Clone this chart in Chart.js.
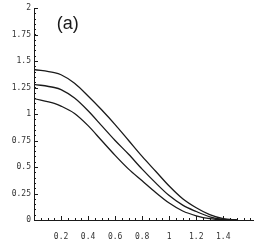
<!DOCTYPE html>
<html>
<head>
<meta charset="utf-8">
<script src="https://cdn.jsdelivr.net/npm/chart.js@4.4.1/dist/chart.umd.min.js"></script>
<style>
    html, body { margin: 0; padding: 0; background: #fff; }
    #wrap { width: 273px; height: 240px; }
</style>
</head>
<body>
<div id="wrap"><canvas id="plot"></canvas></div>
<script>
// Data
const xValues = [0, 0.15, 0.2, 0.3, 0.4, 0.5, 0.6, 0.7, 0.8, 0.9, 1.0, 1.1, 1.2, 1.3, 1.4, 1.5];
const topCurve = [1.42, 1.39, 1.37, 1.29, 1.17, 1.04, 0.90, 0.75, 0.60, 0.46, 0.32, 0.20, 0.115, 0.05, 0.012, 0];
const midCurve = [1.28, 1.25, 1.23, 1.15, 1.03, 0.89, 0.75, 0.62, 0.48, 0.35, 0.23, 0.14, 0.08, 0.03, 0.006, 0];
const lowCurve = [1.145, 1.10, 1.075, 1.005, 0.89, 0.75, 0.61, 0.48, 0.37, 0.26, 0.16, 0.085, 0.04, 0.012, 0.002, 0];

const xTicks = [0.2, 0.4, 0.6, 0.8, 1, 1.2, 1.4];
const yTicks = [0, 0.25, 0.5, 0.75, 1, 1.25, 1.5, 1.75, 2];
const panelLabel = '(a)';

const lineColor = '#1a1a1a';
const tickFont = { family: 'DejaVu Sans Mono', size: 8 };

function toPoints(ys) {
    return xValues.map((x, i) => ({ x: x, y: ys[i] }));
}

function makeSet(ys) {
    return {
        data: toPoints(ys),
        borderColor: lineColor,
        borderWidth: 1.3,
        pointRadius: 0,
        fill: false,
        tension: 0.25,
        cubicInterpolationMode: 'monotone'
    };
}

// inward tick marks + panel label
const decorations = {
    id: 'decorations',
    afterDatasetsDraw(chart) {
        const ctx = chart.ctx;
        const xs = chart.scales.x;
        const ys = chart.scales.y;
        const area = chart.chartArea;
        ctx.save();
        ctx.strokeStyle = lineColor;
        ctx.lineWidth = 1;
        ctx.beginPath();
        yTicks.forEach(v => {
            const py = Math.round(ys.getPixelForValue(v)) + 0.5;
            ctx.moveTo(area.left, py);
            ctx.lineTo(area.left + 4, py);
        });
        for (let v = 0.05; v < 2; v += 0.05) {
            const py = Math.round(ys.getPixelForValue(v)) + 0.5;
            ctx.moveTo(area.left, py);
            ctx.lineTo(area.left + 2, py);
        }
        xTicks.forEach(v => {
            const px = Math.round(xs.getPixelForValue(v)) + 0.5;
            ctx.moveTo(px, area.bottom);
            ctx.lineTo(px, area.bottom - 4);
        });
        for (let v = 0.05; v < xs.max; v += 0.05) {
            const px = Math.round(xs.getPixelForValue(v)) + 0.5;
            ctx.moveTo(px, area.bottom);
            ctx.lineTo(px, area.bottom - 2);
        }
        ctx.stroke();

        ctx.fillStyle = lineColor;
        ctx.font = '18px "Liberation Sans"';
        ctx.textAlign = 'center';
        ctx.textBaseline = 'middle';
        ctx.fillText(panelLabel, xs.getPixelForValue(0.25), ys.getPixelForValue(1.85));
        ctx.restore();
    }
};

const chart = new Chart(document.getElementById('plot'), {
    type: 'line',
    data: {
        datasets: [makeSet(topCurve), makeSet(midCurve), makeSet(lowCurve)]
    },
    options: {
        responsive: true,
        maintainAspectRatio: false,
        animation: false,
        layout: { padding: { top: 8, right: 20, left: 0, bottom: 0 } },
        plugins: {
            legend: { display: false },
            tooltip: { enabled: false }
        },
        scales: {
            x: {
                type: 'linear',
                min: 0,
                max: 1.62,
                afterBuildTicks: s => { s.ticks = xTicks.map(v => ({ value: v })); },
                afterFit: s => { s.height = 20; },
                grid: { display: false, drawTicks: false },
                border: { display: true, color: lineColor, width: 1 },
                ticks: {
                    color: '#333',
                    font: tickFont,
                    padding: 12,
                    maxRotation: 0,
                    autoSkip: false,
                    callback: v => String(v)
                }
            },
            y: {
                type: 'linear',
                min: 0,
                max: 2,
                afterBuildTicks: s => { s.ticks = yTicks.map(v => ({ value: v })); },
                afterFit: s => { s.width = 34; },
                grid: { display: false, drawTicks: false },
                border: { display: true, color: lineColor, width: 1 },
                ticks: {
                    color: '#333',
                    font: tickFont,
                    padding: 3,
                    autoSkip: false,
                    callback: v => String(v)
                }
            }
        }
    },
    plugins: [decorations]
});
</script>
</body>
</html>
